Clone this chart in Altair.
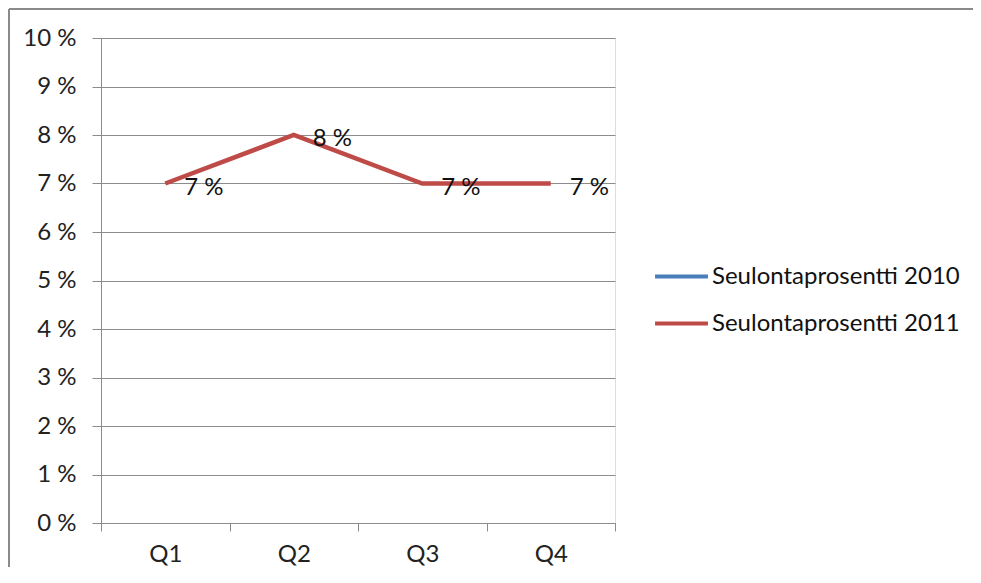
import altair as alt
import pandas as pd

quarters = ["Q1", "Q2", "Q3", "Q4"]
series_names = ["Seulontaprosentti 2010", "Seulontaprosentti 2011"]
values_2010 = [None, None, None, None]
values_2011 = [0.07, 0.08, 0.07, 0.07]
y_ticks = [0.0, 0.01, 0.02, 0.03, 0.04, 0.05, 0.06, 0.07, 0.08, 0.09, 0.10]
colors = ["#4A7EBB", "#BE4B48"]

rows = []
for q, v in zip(quarters, values_2010):
    rows.append({"quarter": q, "series": series_names[0], "value": v})
for q, v in zip(quarters, values_2011):
    rows.append({"quarter": q, "series": series_names[1], "value": v})
df = pd.DataFrame(rows)

FONT = "Lato"
FS = 24

x_enc = alt.X("quarter:N", sort=quarters, title=None,
              scale=alt.Scale(paddingInner=0, paddingOuter=0),
              axis=alt.Axis(labelAngle=0, tickBand="extent", tickSize=8, labelPadding=11,
                            labelFontSize=FS, labelColor="#222", labelFont=FONT,
                            domainColor="#8c8c8c", tickColor="#8c8c8c", grid=False))
y_enc = alt.Y("value:Q", title=None,
              scale=alt.Scale(domain=[0, 0.1], nice=False),
              axis=alt.Axis(values=y_ticks, tickSize=9, labelPadding=16,
                            labelExpr="format(datum.value*100, 'd') + ' %'",
                            labelFontSize=FS, labelColor="#222", labelFont=FONT,
                            domainColor="#8c8c8c", tickColor="#8c8c8c",
                            gridColor="#8c8c8c", gridWidth=1))

color_enc = alt.Color("series:N", scale=alt.Scale(domain=series_names, range=colors),
                      legend=alt.Legend(title=None, orient="none", legendX=552, legendY=210,
                                        symbolType="stroke", symbolStrokeWidth=4,
                                        symbolSize=2800, labelFontSize=FS, labelFont=FONT,
                                        labelColor="#111", labelOffset=2, rowPadding=6,
                                        labelLimit=0))

line = alt.Chart(df).mark_line(strokeWidth=4.5).encode(
    x=x_enc, y=y_enc, color=color_enc
)

labels = alt.Chart(df).transform_filter("datum.value != null").transform_calculate(
    lbl="format(datum.value*100, 'd') + ' %'"
).mark_text(align="left", baseline="middle", dx=19, dy=4, fontSize=FS, font=FONT,
            color="#111").encode(
    x=alt.X("quarter:N", sort=quarters),
    y="value:Q",
    text="lbl:N",
)

frame_top = alt.Chart(df).mark_rule(stroke="#8a8a8a", strokeWidth=2).encode(
    x=alt.value(-92), x2=alt.value(872), y=alt.value(-29)
)
frame_left = alt.Chart(df).mark_rule(stroke="#8a8a8a", strokeWidth=2).encode(
    x=alt.value(-92), y=alt.value(-29), y2=alt.value(560)
)

chart = alt.layer(frame_top, frame_left, line, labels).properties(
    width=514, height=485,
    autosize=alt.AutoSizeParams(type="none"),
    padding={"left": 93, "top": 30, "right": 358, "bottom": 44},
).configure_view(stroke=None).configure(background="white")

chart.save("out.html", embed_options={"renderer": "svg", "actions": False})
